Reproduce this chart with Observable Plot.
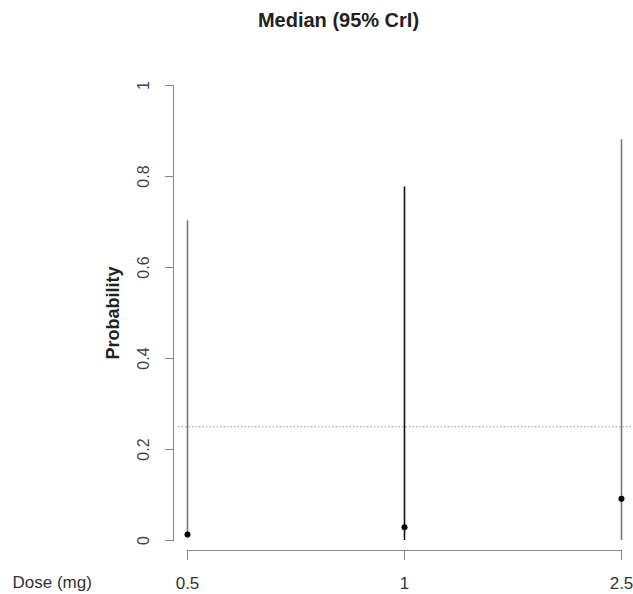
<!DOCTYPE html>
<html>
<head>
<meta charset="utf-8">
<script src="https://cdn.jsdelivr.net/npm/d3@7"></script>
<script src="https://cdn.jsdelivr.net/npm/@observablehq/plot@0.6"></script>
<style>
  html, body { margin: 0; padding: 0; background: #fff; }
  svg { font-family: "Liberation Sans", Arial, sans-serif; }
</style>
</head>
<body>
<div id="chart"></div>
<script>
const doses = ["0.5", "1", "2.5"];
const medians = [0.013, 0.029, 0.092];
const lowers = [0.005, 0.0, 0.0];
const uppers = [0.703, 0.777, 0.881];
const yTicks = [0, 0.2, 0.4, 0.6, 0.8, 1];
const threshold = 0.25;
const titleText = "Median (95% CrI)";
const yLabel = "Probability";
const xLabel = "Dose (mg)";

const data = doses.map((d, i) => ({dose: d, median: medians[i], lower: lowers[i], upper: uppers[i]}));

const plot = Plot.plot({
  width: 633,
  height: 594,
  marginLeft: 173,
  marginRight: 0,
  marginTop: 85,
  marginBottom: 54,
  style: {fontFamily: '"Liberation Sans", Arial, sans-serif', fontSize: "16px", background: "#fff"},
  x: {type: "point", domain: doses, range: [186, 621], padding: 0, axis: null},
  y: {domain: [0, 1], axis: null},
  marks: [
    // y axis line
    Plot.frame({anchor: "left", stroke: "#888"}),
    // y ticks
    Plot.axisY({ticks: yTicks, tickSize: 8, tickFormat: () => "", label: null, stroke: "#888"}),
    Plot.text(yTicks, {y: d => d, text: d => String(d), frameAnchor: "left", textAnchor: "middle", lineAnchor: "middle", dx: -30, rotate: -90, fill: "#444", fontSize: 16}),
    // x axis line + ticks
    Plot.ruleY([0], {x1: () => doses[0], x2: () => doses[doses.length - 1], dy: 10, stroke: "#888"}),
    Plot.axisX({ticks: doses, tickSize: 10, dy: 10, tickPadding: 16, label: null, stroke: "#888", fill: "#333", fontSize: 17}),
    // reference line
    Plot.ruleY([threshold], {stroke: "#999", strokeDasharray: "1.5,2", insetLeft: 5}),
    // intervals
    Plot.ruleX(data, {x: "dose", y1: "lower", y2: "upper", stroke: d => d.dose === "1" ? "#111" : "#777", strokeWidth: 1.6}),
    Plot.dot(data, {x: "dose", y: "median", r: 3, fill: "#000", stroke: null}),
    // title and labels
    Plot.text([titleText], {frameAnchor: "top", lineAnchor: "middle", dx: -65, dy: -65, fontWeight: "bold", fontSize: 20, fill: "#222"}),
    Plot.text([yLabel], {frameAnchor: "left", textAnchor: "middle", lineAnchor: "middle", dx: -60, rotate: -90, fontWeight: "bold", fontSize: 18, fill: "#222"}),
    Plot.text([xLabel], {frameAnchor: "bottom-left", lineAnchor: "middle", dx: -161, dy: 42, textAnchor: "start", fontSize: 17, fill: "#333"})
  ]
});
document.getElementById("chart").appendChild(plot);
</script>
</body>
</html>
